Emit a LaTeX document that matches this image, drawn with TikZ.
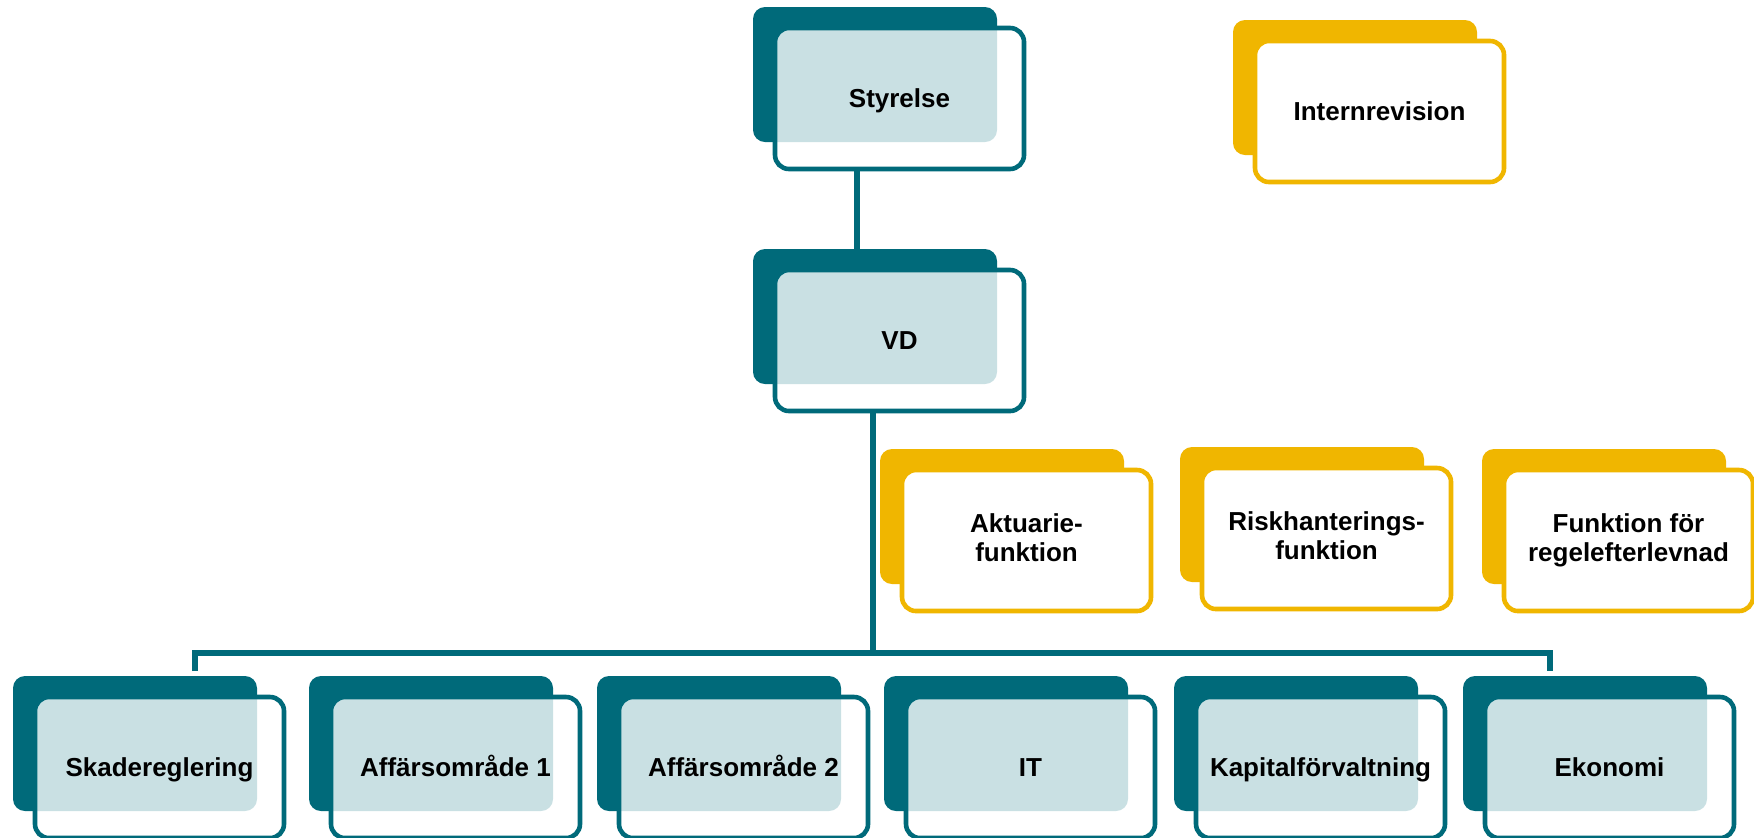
\documentclass[tikz,border=0pt]{standalone}
\usepackage{fontspec}
\setmainfont{Liberation Sans}
\usetikzlibrary{backgrounds}
\definecolor{orgteal}{RGB}{0,106,122}
\definecolor{orggold}{RGB}{240,182,0}
\colorlet{orgtint}{orgteal!21}
\newcommand\capstrut{\rule[-3.3pt]{0pt}{15.4pt}}
\tikzset{
  frontbox/.style={draw, line width=2.3pt, rounded corners=7pt, minimum width=124.5pt,
    minimum height=70.5pt, inner sep=0pt, align=center,
    font=\fontsize{13}{14.5}\selectfont\bfseries,
    execute at begin node=\capstrut, execute at end node=\capstrut},
  conn/.style={draw=orgteal, line width=2.8pt, line cap=butt, line join=miter}
}
% #1 name, #2 colour, #3 overlap fill, #4 back x, #5 back y, #6 text
\newcommand\orgbox[6]{%
  \fill[#2, rounded corners=6pt] (#4,#5) rectangle ++(244,135);
  \begin{scope}
    \clip[rounded corners=7pt] ({#4+22},{#5+21}) rectangle ++(249,141);
    \fill[white] ({#4+22},{#5+21}) rectangle ++(249,141);
    \fill[#3, rounded corners=6pt] (#4,#5) rectangle ++(244,135);
  \end{scope}
  \node[frontbox, draw=#2] (#1) at ({#4+146.5},{#5+91.5}) {#6};
}
\begin{document}
\begin{tikzpicture}[x=0.5pt,y=-0.5pt]
\useasboundingbox (0,0) rectangle (1754,837);
\orgbox{styrelse}{orgteal}{orgtint}{753}{7}{Styrelse}
\orgbox{internrev}{orggold}{white}{1233}{20}{Internrevision}
\orgbox{vd}{orgteal}{orgtint}{753}{249}{VD}
\orgbox{aktuarie}{orggold}{white}{880}{449}{Aktuarie-\\funktion}
\orgbox{risk}{orggold}{white}{1180}{447}{Riskhanterings-\\funktion}
\orgbox{regel}{orggold}{white}{1482}{449}{Funktion för\\regelefterlevnad}
\orgbox{skade}{orgteal}{orgtint}{13}{676}{Skadereglering}
\orgbox{aff1}{orgteal}{orgtint}{309}{676}{Affärsområde 1}
\orgbox{aff2}{orgteal}{orgtint}{597}{676}{Affärsområde 2}
\orgbox{it}{orgteal}{orgtint}{884}{676}{IT}
\orgbox{kapital}{orgteal}{orgtint}{1174}{676}{Kapitalförvaltning}
\orgbox{ekonomi}{orgteal}{orgtint}{1463}{676}{Ekonomi}
\coordinate (hub) at (873,653);
\coordinate (lcorner) at (195,653);
\coordinate (rcorner) at (1550,653);
\coordinate (ldrop) at (195,671);
\coordinate (rdrop) at (1550,671);
\begin{pgfonlayer}{background}
  \fill[white] (0,0) rectangle (1754,837);
  \draw[conn] ([xshift=-21.25pt]styrelse.south) -- ([xshift=-21.25pt]vd.north);
  \draw[conn] ([xshift=-13.25pt]vd.south) -- (hub);
  \draw[conn] (ldrop) -- (lcorner) -- (rcorner) -- (rdrop);
\end{pgfonlayer}
\end{tikzpicture}
\end{document}
